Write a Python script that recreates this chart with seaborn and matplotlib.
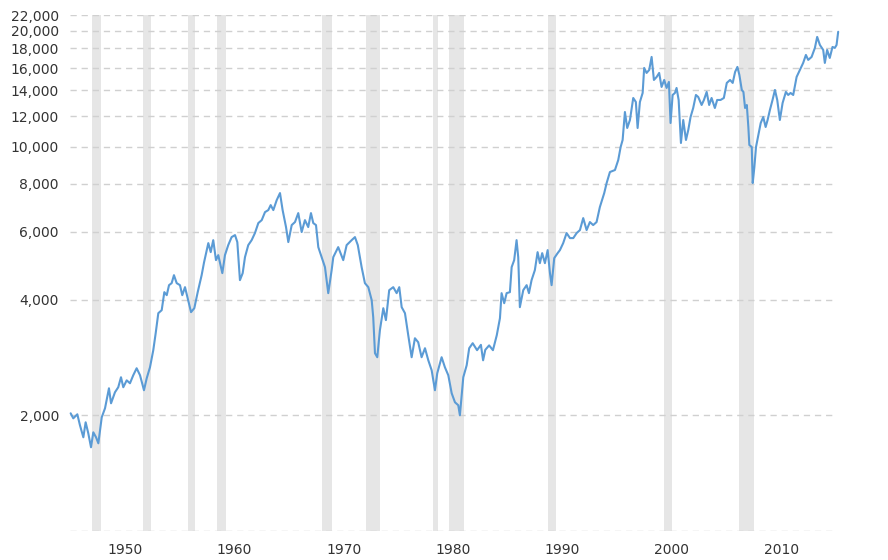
import matplotlib
matplotlib.use("Agg")
import matplotlib.pyplot as plt
import seaborn as sns
import pandas as pd
from matplotlib.ticker import FixedLocator, FixedFormatter, NullLocator

# ---- data ----
years = [
    1945.06, 1945.30, 1945.67, 1945.91, 1946.22, 1946.43, 1946.67, 1946.92, 1947.13, 1947.38,
    1947.59, 1947.90, 1948.20, 1948.56, 1948.75, 1949.11, 1949.41, 1949.66, 1949.87, 1950.18,
    1950.48, 1950.78, 1951.09, 1951.40, 1951.76, 1952.01, 1952.31, 1952.61, 1952.83, 1953.07,
    1953.38, 1953.62, 1953.84, 1954.05, 1954.29, 1954.50, 1954.75, 1955.05, 1955.26, 1955.51,
    1955.75, 1956.06, 1956.36, 1956.67, 1957.03, 1957.25, 1957.64, 1957.86, 1958.09, 1958.34,
    1958.55, 1958.92, 1959.16, 1959.46, 1959.77, 1960.08, 1960.29, 1960.53, 1960.78, 1960.99,
    1961.29, 1961.60, 1961.90, 1962.21, 1962.52, 1962.82, 1963.12, 1963.34, 1963.58, 1963.89,
    1964.19, 1964.43, 1964.74, 1964.95, 1965.26, 1965.56, 1965.86, 1966.17, 1966.47, 1966.77,
    1967.02, 1967.23, 1967.48, 1967.69, 1968.00, 1968.30, 1968.60, 1968.91, 1969.06, 1969.51,
    1969.97, 1970.28, 1970.74, 1971.04, 1971.30, 1971.65, 1971.95, 1972.26, 1972.57, 1972.71,
    1972.87, 1973.08, 1973.32, 1973.63, 1973.87, 1974.17, 1974.54, 1974.85, 1975.09, 1975.31,
    1975.61, 1975.91, 1976.22, 1976.52, 1976.82, 1977.13, 1977.44, 1977.74, 1978.05, 1978.35,
    1978.56, 1978.96, 1979.26, 1979.57, 1979.88, 1980.18, 1980.48, 1980.63, 1980.94, 1981.25,
    1981.48, 1981.80, 1982.20, 1982.55, 1982.75, 1982.95, 1983.30, 1983.65, 1984.00, 1984.29,
    1984.44, 1984.68, 1984.90, 1985.20, 1985.36, 1985.59, 1985.81, 1985.96, 1986.11, 1986.42,
    1986.73, 1986.94, 1987.18, 1987.48, 1987.73, 1987.94, 1988.15, 1988.40, 1988.65, 1988.86,
    1989.01, 1989.25, 1989.56, 1989.77, 1990.07, 1990.38, 1990.69, 1990.99, 1991.30, 1991.60,
    1991.90, 1992.21, 1992.51, 1992.81, 1993.12, 1993.42, 1993.82, 1994.04, 1994.34, 1994.80,
    1995.10, 1995.32, 1995.50, 1995.71, 1995.92, 1996.17, 1996.47, 1996.71, 1996.87, 1997.08,
    1997.33, 1997.47, 1997.69, 1997.93, 1998.15, 1998.36, 1998.61, 1998.84, 1999.06, 1999.30,
    1999.52, 1999.73, 1999.88, 2000.07, 2000.28, 2000.43, 2000.62, 2000.83, 2001.04, 2001.29,
    2001.50, 2001.71, 2001.95, 2002.20, 2002.41, 2002.72, 2002.93, 2003.18, 2003.41, 2003.63,
    2003.93, 2004.14, 2004.45, 2004.75, 2005.02, 2005.32, 2005.56, 2005.78, 2005.99, 2006.17,
    2006.39, 2006.54, 2006.69, 2006.85, 2006.99, 2007.08, 2007.30, 2007.39, 2007.54, 2007.69,
    2007.90, 2008.12, 2008.35, 2008.57, 2008.75, 2008.96, 2009.20, 2009.42, 2009.63, 2009.87,
    2010.12, 2010.42, 2010.63, 2010.85, 2011.09, 2011.40, 2011.70, 2012.00, 2012.25, 2012.46,
    2012.77, 2013.07, 2013.28, 2013.53, 2013.83, 2013.98, 2014.19, 2014.43, 2014.68, 2014.89,
    2015.05, 2015.20,
]
values = [
    2024, 1964, 2012, 1884, 1753, 1918, 1796, 1651, 1806, 1753,
    1691, 1976, 2086, 2351, 2149, 2296, 2366, 2512, 2366, 2466,
    2423, 2542, 2651, 2542, 2324, 2497, 2667, 2954, 3270, 3687,
    3754, 4182, 4107, 4361, 4414, 4630, 4414, 4361, 4107, 4309,
    4033, 3710, 3799, 4182, 4630, 5000, 5610, 5315, 5711, 5066,
    5220, 4686, 5220, 5543, 5816, 5886, 5644, 4494, 4686, 5158,
    5543, 5711, 5958, 6326, 6438, 6755, 6837, 7045, 6837, 7258,
    7571, 6837, 6176, 5644, 6250, 6364, 6715, 5993, 6438, 6176,
    6715, 6326, 6250, 5477, 5158, 4858, 4157, 4771, 5158, 5477,
    5066, 5543, 5711, 5816, 5543, 4858, 4414, 4309, 3986, 3599,
    2901, 2832, 3329, 3799, 3537, 4232, 4309, 4157, 4309, 3822,
    3687, 3231, 2832, 3173, 3098, 2832, 2989, 2782, 2619, 2324,
    2573, 2832, 2667, 2542, 2282, 2162, 2124, 2000, 2512, 2699,
    2989, 3080, 2954, 3050, 2780, 2960, 3040, 2954, 3231, 3578,
    4157, 3914, 4157, 4182, 4858, 5066, 5711, 5158, 3822, 4232,
    4361, 4157, 4494, 4771, 5315, 4975, 5283, 4975, 5379, 4686,
    4361, 5127, 5283, 5379, 5610, 5958, 5781, 5781, 5958, 6066,
    6517, 6066, 6364, 6250, 6364, 6961, 7571, 8040, 8588, 8692,
    9228, 9978, 10404, 12304, 11180, 11730, 13382, 13066, 11180, 13066,
    13791, 16023, 15549, 15831, 17113, 14908, 15179, 15549, 14297, 14908,
    14212, 14734, 11520, 13626, 13791, 14212, 13224, 10220, 11730, 10404,
    11048, 11941, 12603, 13626, 13463, 12832, 13224, 13874, 12832, 13382,
    12603, 13224, 13224, 13382, 14645, 14908, 14645, 15642, 16119, 15363,
    14042, 13874, 12603, 12832, 11247, 10098, 9978, 8040, 8849, 9978,
    10720, 11520, 11941, 11247, 11730, 12453, 13224, 14042, 13224, 11730,
    12988, 13874, 13626, 13791, 13626, 15179, 15831, 16510, 17319, 16808,
    17113, 18061, 19293, 18382, 17845, 16510, 17845, 17010, 18170, 18061,
    18382, 19900,
]

recession_starts = [1947.00, 1951.67, 1955.78, 1958.40, 1968.05, 1972.02, 1978.19, 1979.66, 1988.70, 1999.30, 2006.10]
recession_ends   = [1947.83, 1952.40, 1956.42, 1959.22, 1968.97, 1973.32, 1978.65, 1981.03, 1989.38, 1999.98, 2007.53]

y_ticks = [1000, 2000, 4000, 6000, 8000, 10000, 12000, 14000, 16000, 18000, 20000, 22000]
y_tick_labels = ["", "2,000", "4,000", "6,000", "8,000", "10,000", "12,000", "14,000",
                 "16,000", "18,000", "20,000", "22,000"]
x_ticks = [1950, 1960, 1970, 1980, 1990, 2000, 2010]
x_tick_labels = ["1950", "1960", "1970", "1980", "1990", "2000", "2010"]

df = pd.DataFrame({"year": years, "value": values})

sns.set_theme(style="white")
plt.rcParams["font.family"] = ["DejaVu Sans"]

fig = plt.figure(figsize=(8.88, 5.60), dpi=100)
ax = fig.add_axes([70/888, 1 - 531/560, (836 - 70)/888, (531 - 15)/560])

for s, e in zip(recession_starts, recession_ends):
    ax.axvspan(s, e, color="#e6e6e6", lw=0, zorder=0)

sns.lineplot(data=df, x="year", y="value", ax=ax, color="#5b9bd5", lw=1.5,
             estimator=None, sort=False, zorder=3)
for ln in ax.get_lines():
    ln.set_clip_on(False)

ax.set_yscale("log")
ax.set_ylim(1000, 22000)
ax.set_xlim(1945, 2015)

ax.yaxis.set_major_locator(FixedLocator(y_ticks))
ax.yaxis.set_major_formatter(FixedFormatter(y_tick_labels))
ax.yaxis.set_minor_locator(NullLocator())
ax.set_xticks(x_ticks)
ax.set_xticklabels(x_tick_labels)

for t in y_ticks:
    ax.axhline(t, color="#d0d0d0", lw=1.0, ls=(0, (4.5, 3.5)), zorder=1)

ax.tick_params(axis="both", length=0, labelsize=10, colors="#333333")
ax.tick_params(axis="y", pad=8)
ax.tick_params(axis="x", pad=9)
ax.set_xlabel("")
ax.set_ylabel("")
for sp in ax.spines.values():
    sp.set_visible(False)
ax.grid(False)

fig.savefig("out.png", dpi=100)
